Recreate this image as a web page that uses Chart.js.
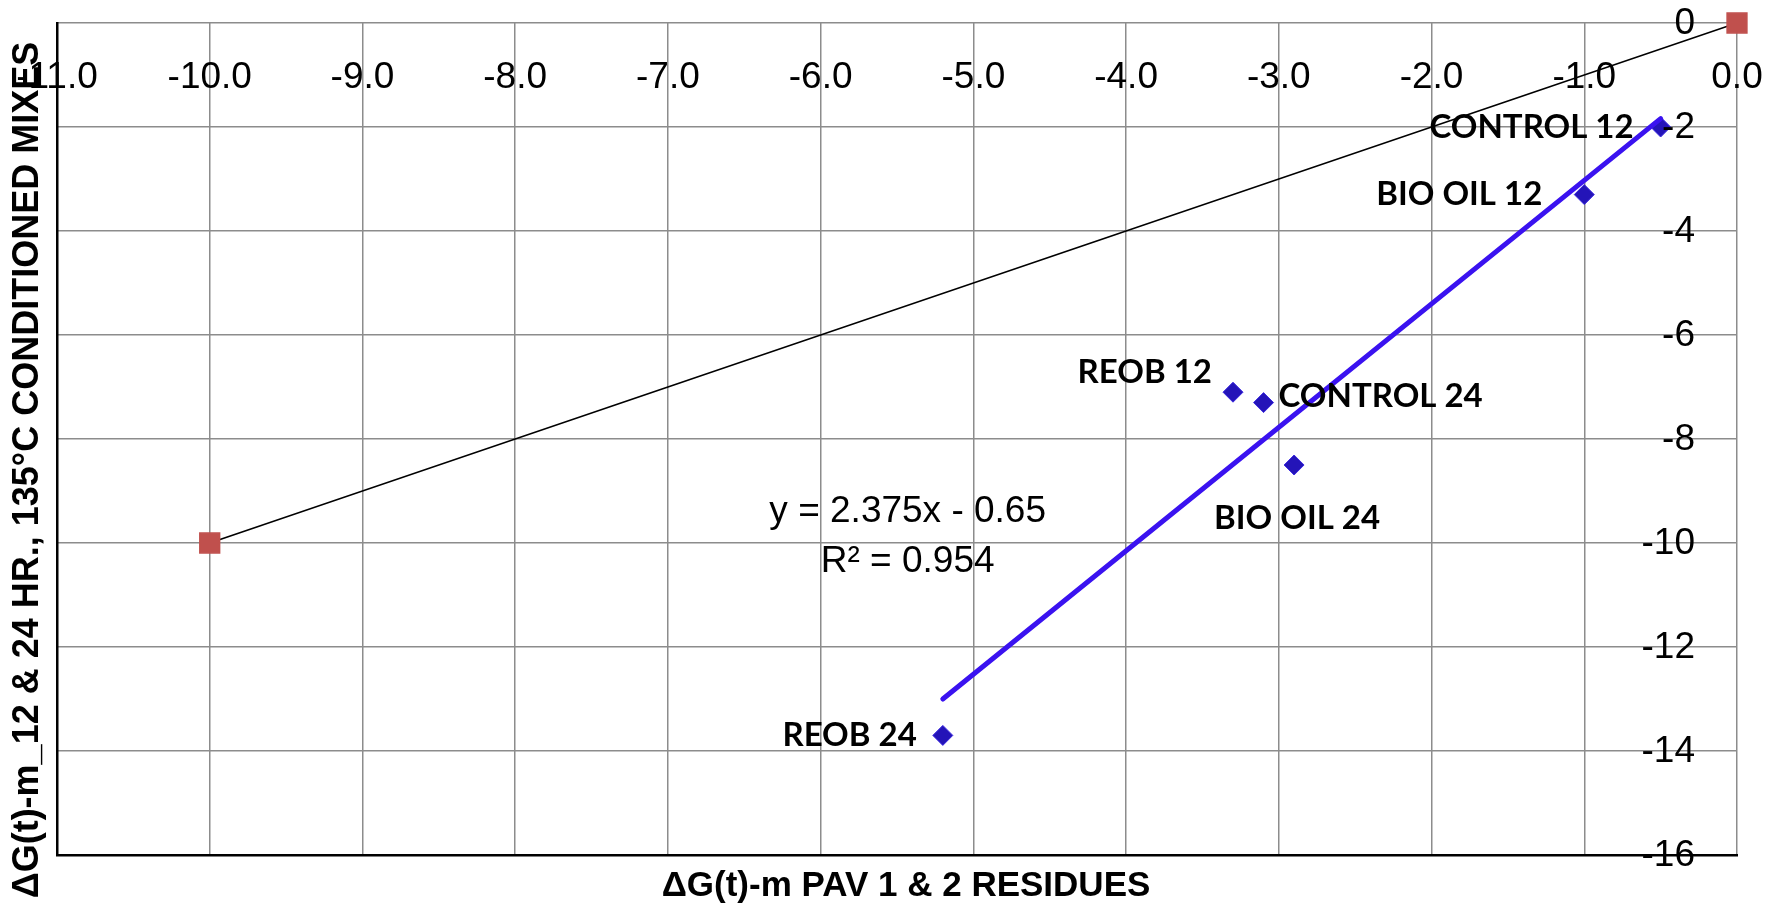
<!DOCTYPE html>
<html>
<head>
<meta charset="utf-8">
<title>ΔG(t)-m comparison</title>
<script src="https://cdn.jsdelivr.net/npm/chart.js@4.4.1/dist/chart.umd.min.js"></script>
<style>
  html, body { margin: 0; padding: 0; background: #fff; }
  #wrap { width: 1779px; height: 911px; position: relative; }
</style>
</head>
<body>
<div id="wrap"><canvas id="chart"></canvas></div>
<script>
// mixes: PAV residues (x) vs 135°C conditioned (y)
const mixLabels = ["CONTROL 12", "BIO OIL 12", "REOB 12", "CONTROL 24", "BIO OIL 24", "REOB 24"];
const mixX = [-0.5, -1.0, -3.3, -3.1, -2.9, -5.2];
const mixY = [-2.0, -3.3, -7.1, -7.3, -8.5, -13.7];

// equality line (red squares)
const refX = [-10, 0];
const refY = [-10, 0];

// linear trendline ends, as drawn
const trendX = [-5.2, -0.5];
const trendY = [-13.0, -1.84];
const trendText = ["y = 2.375x - 0.65", "R² = 0.954"];

const xTicks = [-11, -10, -9, -8, -7, -6, -5, -4, -3, -2, -1, 0];
const xTickLabels = ["-11.0", "-10.0", "-9.0", "-8.0", "-7.0", "-6.0", "-5.0", "-4.0", "-3.0", "-2.0", "-1.0", "0.0"];
const yTicks = [-16, -14, -12, -10, -8, -6, -4, -2, 0];
const yTickLabels = ["-16", "-14", "-12", "-10", "-8", "-6", "-4", "-2", "0"];

const xTitle = "ΔG(t)-m PAV 1 & 2 RESIDUES";
const yTitle = "ΔG(t)-m_12 & 24 HR., 135°C CONDITIONED MIXES";

// where each point label sits relative to its marker (px)
const labelPlace = [
  { align: "right", dx: -27, dy: 0 },
  { align: "right", dx: -42, dy: 0 },
  { align: "right", dx: -21, dy: -20 },
  { align: "left", dx: 15, dy: -6 },
  { align: "center", dx: 3, dy: 53 },
  { align: "right", dx: -26, dy: 0 }
];
const eqAnchor = { x: -5.43, y: -9.4 };

const GRID = "#8c8c8c";
const tickFont = { family: "Liberation Sans", size: 37 };

const toPts = (xs, ys) => xs.map((v, i) => ({ x: v, y: ys[i] }));

const noPad = s => {
  s.paddingLeft = 0; s.paddingRight = 0; s.paddingTop = 0; s.paddingBottom = 0;
};

const annotate = {
  id: "annotate",
  afterDatasetsDraw(chart) {
    const { ctx, chartArea, scales: { x, y } } = chart;
    ctx.save();
    ctx.fillStyle = "#000";
    ctx.textBaseline = "middle";

    // y tick labels sit inside the plot, left of the 0 line
    ctx.font = '37px "Liberation Sans"';
    ctx.textAlign = "right";
    yTicks.forEach((v, i) => {
      ctx.fillText(yTickLabels[i], chartArea.right - 42, y.getPixelForValue(v) + 1);
    });

    ctx.font = "bold 33px Lato";
    mixLabels.forEach((t, i) => {
      const p = labelPlace[i];
      ctx.textAlign = p.align;
      ctx.fillText(t, x.getPixelForValue(mixX[i]) + p.dx, y.getPixelForValue(mixY[i]) + p.dy);
    });

    ctx.font = '37px "Liberation Sans"';
    ctx.textAlign = "center";
    const ex = x.getPixelForValue(eqAnchor.x);
    const ey = y.getPixelForValue(eqAnchor.y);
    ctx.fillText(trendText[0], ex, ey);
    ctx.fillText(trendText[1], ex, ey + 50);
    ctx.restore();
  },
  afterDraw(chart) {
    const { ctx, chartArea } = chart;
    ctx.save();
    ctx.fillStyle = "#000";
    ctx.textBaseline = "middle";
    ctx.textAlign = "center";
    ctx.font = 'bold 35px "Liberation Sans"';
    ctx.fillText(xTitle, (chartArea.left + chartArea.right) / 2 + 9, chartArea.bottom + 31);

    ctx.translate(28, 470);
    ctx.rotate(-Math.PI / 2);
    ctx.font = 'bold 36px "Liberation Sans"';
    ctx.fillText(yTitle, 0, 0);
    ctx.restore();
  }
};

new Chart(document.getElementById("chart"), {
  type: "scatter",
  data: {
    datasets: [
      {
        label: "Linear (mixes)",
        data: toPts(trendX, trendY),
        showLine: true,
        borderColor: "#3a12f0",
        borderWidth: 5,
        borderCapStyle: "round",
        pointRadius: 0
      },
      {
        label: "Mixes",
        data: toPts(mixX, mixY),
        pointStyle: "rectRot",
        pointRadius: 10,
        pointBackgroundColor: "#2414b8",
        pointBorderColor: "#3a28e0",
        pointBorderWidth: 1
      },
      {
        label: "Equality",
        data: toPts(refX, refY),
        showLine: true,
        borderColor: "#000",
        borderWidth: 1.5,
        pointStyle: "rect",
        pointRadius: 14,
        pointBackgroundColor: "#c0504d",
        pointBorderColor: "#c0504d",
        clip: false
      }
    ]
  },
  options: {
    responsive: true,
    maintainAspectRatio: false,
    animation: false,
    layout: { padding: { left: 57, right: 42, top: 23, bottom: 56 } },
    plugins: {
      legend: { display: false },
      tooltip: { enabled: false }
    },
    scales: {
      x: {
        type: "linear",
        min: -11,
        max: 0,
        position: { y: 0 },
        grid: { color: GRID, lineWidth: 1.5, drawTicks: false },
        border: { display: false },
        ticks: {
          font: tickFont,
          color: "#000",
          padding: 33,
          autoSkip: false,
          maxRotation: 0,
          callback: (v, i) => xTickLabels[i]
        },
        afterBuildTicks: s => { s.ticks = xTicks.map(v => ({ value: v })); },
        afterFit: s => { s.height = 0; noPad(s); }
      },
      y: {
        type: "linear",
        min: -16,
        max: 0,
        position: "right",
        grid: { color: GRID, lineWidth: 1.5, drawTicks: false },
        border: { display: false },
        ticks: { display: false },
        afterBuildTicks: s => { s.ticks = yTicks.map(v => ({ value: v })); },
        afterFit: s => { s.width = 0; noPad(s); }
      },
      x2: {
        type: "linear",
        min: -11,
        max: 0,
        position: "bottom",
        grid: { display: false, drawTicks: false },
        border: { color: "#000", width: 2.5 },
        ticks: { display: false }
      },
      y2: {
        type: "linear",
        min: -16,
        max: 0,
        position: "left",
        grid: { display: false, drawTicks: false },
        border: { color: "#000", width: 2.5 },
        ticks: { display: false }
      }
    }
  },
  plugins: [annotate]
});
</script>
</body>
</html>
